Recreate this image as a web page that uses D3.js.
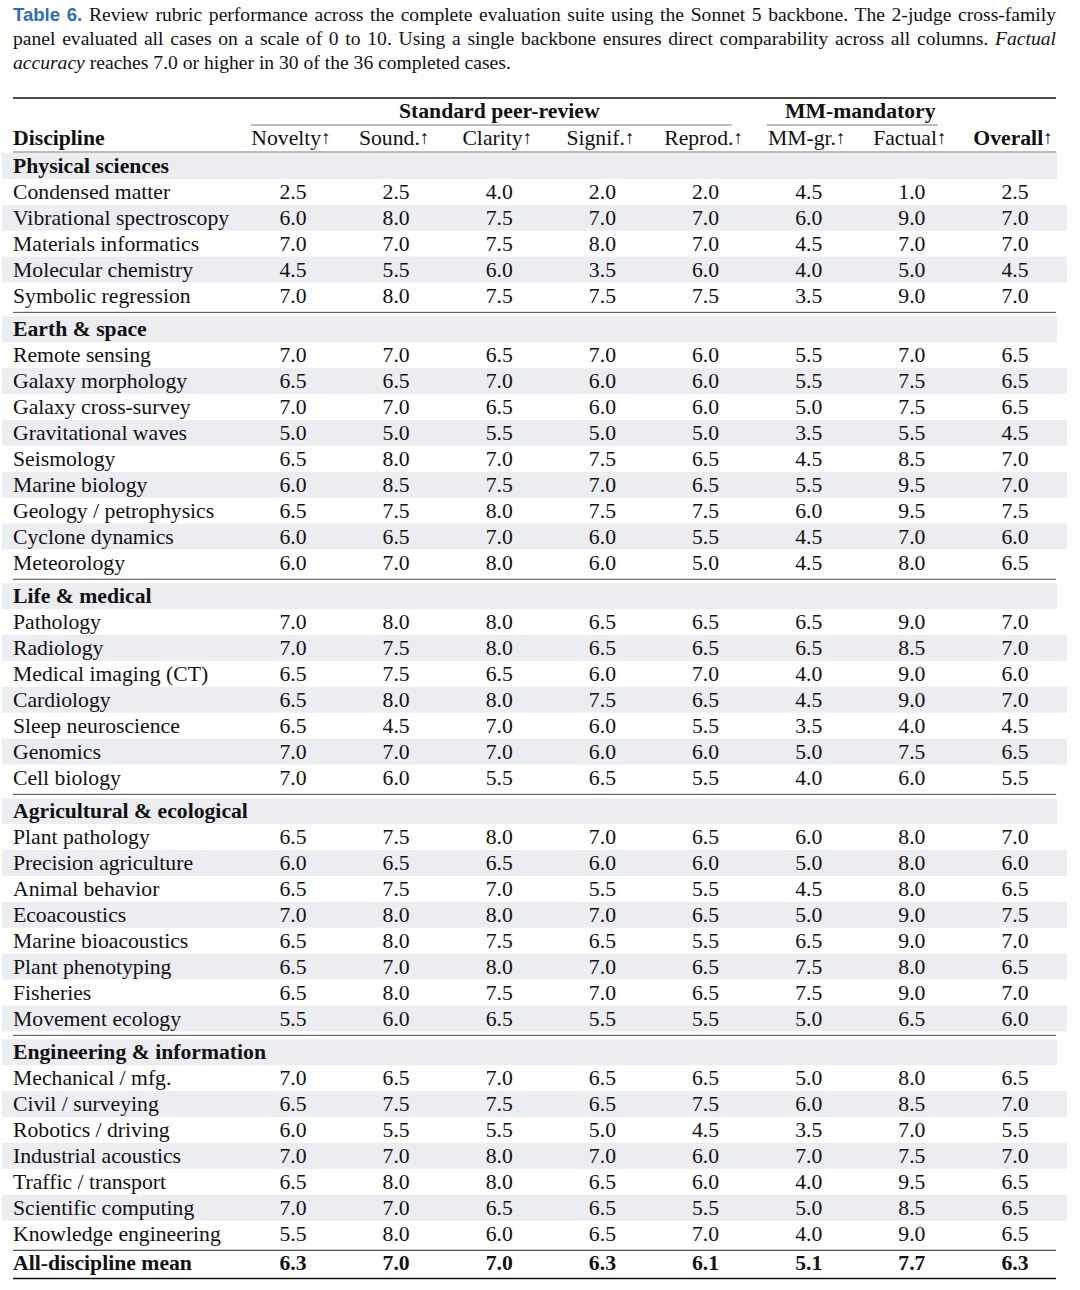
<!DOCTYPE html>
<html>
<head>
<meta charset="utf-8">
<script src="https://cdn.jsdelivr.net/npm/d3@7"></script>
<style>
  body { margin: 0; background: #fff; }
  #page { position: relative; width: 1080px; height: 1290px; }
  .cap { position: absolute; left: 13px; top: 3px; width: 1043px; z-index: 2;
         font-family: "Liberation Serif", "Times New Roman", serif; font-size: 19.6px;
         line-height: 24px; color: #111; }
  .cap .ln { text-align: justify; text-align-last: justify; white-space: nowrap; }
  .cap .ln.last { text-align-last: left; }
  .cap .tag { font-family: "Liberation Sans", Arial, sans-serif; font-weight: bold; color: #2e6db5; font-size: 18.5px; }
  svg { position: absolute; left: 0; top: 0; }
</style>
</head>
<body>
<div id="page"></div>
<script>
// column headers and groups
var columns = ["Novelty", "Sound.", "Clarity", "Signif.", "Reprod.", "MM-gr.", "Factual", "Overall"];
var spanners = [
  { label: "Standard peer-review", first: "Novelty", last: "Reprod." },
  { label: "MM-mandatory", first: "MM-gr.", last: "Factual" }
];
var groupNames = ["Physical sciences", "Earth & space", "Life & medical",
                  "Agricultural & ecological", "Engineering & information"];

// scores per discipline, same order as columns
var physical = [
  ["Condensed matter",        [2.5, 2.5, 4.0, 2.0, 2.0, 4.5, 1.0, 2.5]],
  ["Vibrational spectroscopy",[6.0, 8.0, 7.5, 7.0, 7.0, 6.0, 9.0, 7.0]],
  ["Materials informatics",   [7.0, 7.0, 7.5, 8.0, 7.0, 4.5, 7.0, 7.0]],
  ["Molecular chemistry",     [4.5, 5.5, 6.0, 3.5, 6.0, 4.0, 5.0, 4.5]],
  ["Symbolic regression",     [7.0, 8.0, 7.5, 7.5, 7.5, 3.5, 9.0, 7.0]]
];
var earth = [
  ["Remote sensing",          [7.0, 7.0, 6.5, 7.0, 6.0, 5.5, 7.0, 6.5]],
  ["Galaxy morphology",       [6.5, 6.5, 7.0, 6.0, 6.0, 5.5, 7.5, 6.5]],
  ["Galaxy cross-survey",     [7.0, 7.0, 6.5, 6.0, 6.0, 5.0, 7.5, 6.5]],
  ["Gravitational waves",     [5.0, 5.0, 5.5, 5.0, 5.0, 3.5, 5.5, 4.5]],
  ["Seismology",              [6.5, 8.0, 7.0, 7.5, 6.5, 4.5, 8.5, 7.0]],
  ["Marine biology",          [6.0, 8.5, 7.5, 7.0, 6.5, 5.5, 9.5, 7.0]],
  ["Geology / petrophysics",  [6.5, 7.5, 8.0, 7.5, 7.5, 6.0, 9.5, 7.5]],
  ["Cyclone dynamics",        [6.0, 6.5, 7.0, 6.0, 5.5, 4.5, 7.0, 6.0]],
  ["Meteorology",             [6.0, 7.0, 8.0, 6.0, 5.0, 4.5, 8.0, 6.5]]
];
var life = [
  ["Pathology",               [7.0, 8.0, 8.0, 6.5, 6.5, 6.5, 9.0, 7.0]],
  ["Radiology",               [7.0, 7.5, 8.0, 6.5, 6.5, 6.5, 8.5, 7.0]],
  ["Medical imaging (CT)",    [6.5, 7.5, 6.5, 6.0, 7.0, 4.0, 9.0, 6.0]],
  ["Cardiology",              [6.5, 8.0, 8.0, 7.5, 6.5, 4.5, 9.0, 7.0]],
  ["Sleep neuroscience",      [6.5, 4.5, 7.0, 6.0, 5.5, 3.5, 4.0, 4.5]],
  ["Genomics",                [7.0, 7.0, 7.0, 6.0, 6.0, 5.0, 7.5, 6.5]],
  ["Cell biology",            [7.0, 6.0, 5.5, 6.5, 5.5, 4.0, 6.0, 5.5]]
];
var agri = [
  ["Plant pathology",         [6.5, 7.5, 8.0, 7.0, 6.5, 6.0, 8.0, 7.0]],
  ["Precision agriculture",   [6.0, 6.5, 6.5, 6.0, 6.0, 5.0, 8.0, 6.0]],
  ["Animal behavior",         [6.5, 7.5, 7.0, 5.5, 5.5, 4.5, 8.0, 6.5]],
  ["Ecoacoustics",            [7.0, 8.0, 8.0, 7.0, 6.5, 5.0, 9.0, 7.5]],
  ["Marine bioacoustics",     [6.5, 8.0, 7.5, 6.5, 5.5, 6.5, 9.0, 7.0]],
  ["Plant phenotyping",       [6.5, 7.0, 8.0, 7.0, 6.5, 7.5, 8.0, 6.5]],
  ["Fisheries",               [6.5, 8.0, 7.5, 7.0, 6.5, 7.5, 9.0, 7.0]],
  ["Movement ecology",        [5.5, 6.0, 6.5, 5.5, 5.5, 5.0, 6.5, 6.0]]
];
var engineering = [
  ["Mechanical / mfg.",       [7.0, 6.5, 7.0, 6.5, 6.5, 5.0, 8.0, 6.5]],
  ["Civil / surveying",       [6.5, 7.5, 7.5, 6.5, 7.5, 6.0, 8.5, 7.0]],
  ["Robotics / driving",      [6.0, 5.5, 5.5, 5.0, 4.5, 3.5, 7.0, 5.5]],
  ["Industrial acoustics",    [7.0, 7.0, 8.0, 7.0, 6.0, 7.0, 7.5, 7.0]],
  ["Traffic / transport",     [6.5, 8.0, 8.0, 6.5, 6.0, 4.0, 9.5, 6.5]],
  ["Scientific computing",    [7.0, 7.0, 6.5, 6.5, 5.5, 5.0, 8.5, 6.5]],
  ["Knowledge engineering",   [5.5, 8.0, 6.0, 6.5, 7.0, 4.0, 9.0, 6.5]]
];
var meanLabel = "All-discipline mean";
var meanScores = [6.3, 7.0, 7.0, 6.3, 6.1, 5.1, 7.7, 6.3];

var groups = [physical, earth, life, agri, engineering];

// caption
var page = d3.select("#page");
var cap = page.append("div").attr("class", "cap");
cap.append("div").attr("class", "ln")
  .html('<span class="tag">Table 6.</span> Review rubric performance across the complete evaluation suite using the Sonnet 5 backbone. The 2-judge cross-family');
cap.append("div").attr("class", "ln")
  .html('panel evaluated all cases on a scale of 0 to 10. Using a single backbone ensures direct comparability across all columns. <i>Factual</i>');
cap.append("div").attr("class", "ln last")
  .html('<i>accuracy</i> reaches 7.0 or higher in 30 of the 36 completed cases.');

var svg = page.append("svg").attr("width", 1080).attr("height", 1290)
  .style("font-family", '"Liberation Serif", "Times New Roman", serif')
  .style("font-size", "21.7px")
  .style("fill", "#111");

var x = d3.scalePoint().domain(columns).range([293, 1015]);
var fmt = d3.format(".1f");

var ruleL = 13, ruleR = 1056;
var rowH = 25.9, gap = 7.9, bodyTop = 153;

// build rows with positions
var rows = [];
var yPos = bodyTop;
var seps = [];
groups.forEach(function(g, gi) {
  if (gi > 0) { seps.push(yPos + gap / 2); yPos += gap; }
  rows.push({ type: "group", label: groupNames[gi], y0: yPos });
  yPos += rowH;
  g.forEach(function(r, i) {
    rows.push({ type: "data", label: r[0], values: r[1], y0: yPos, shaded: i % 2 == 1 });
    yPos += rowH;
  });
});
var meanRule = yPos + 3.8;
rows.push({ type: "mean", label: meanLabel, values: meanScores, y0: meanRule, shaded: false });
var bottomRule = meanRule + rowH + 2.3;

// shading
svg.append("g").selectAll("rect")
  .data(rows.filter(function(d) { return d.type == "group" || d.shaded; }))
  .enter().append("rect")
    .attr("x", 2)
    .attr("y", function(d) { return d.y0; })
    .attr("width", function(d) { return d.type == "group" ? 1055 : 1065; })
    .attr("height", rowH)
    .attr("fill", "#ebedf1");

// rules
function rule(y, x1, x2, w, c) {
  svg.append("line").attr("x1", x1).attr("x2", x2).attr("y1", y).attr("y2", y)
    .attr("stroke", c).attr("stroke-width", w);
}
rule(98, ruleL, ruleR, 1.7, "#111");
rule(152, ruleL, ruleR, 1.2, "#7a7a7a");
seps.forEach(function(y) { rule(y, ruleL, ruleR, 1, "#4a4a4a"); });
rule(meanRule, ruleL, ruleR, 1.1, "#222");
rule(bottomRule, ruleL, ruleR, 1.7, "#111");

// spanning headers
spanners.forEach(function(s) {
  var a = x(s.first), b = x(s.last);
  svg.append("text").attr("x", (a + b) / 2).attr("y", 118)
    .attr("text-anchor", "middle").attr("font-weight", "bold").text(s.label);
  rule(125, a - 42, b + 26, 1.2, "#7a7a7a");
});

// column header row
svg.append("text").attr("x", ruleL).attr("y", 144.5).attr("font-weight", "bold").text("Discipline");
var hd = svg.append("g").selectAll("text").data(columns).enter().append("text")
  .attr("x", function(d) { return x(d) - 2; })
  .attr("y", 144.5)
  .attr("text-anchor", "middle")
  .attr("font-weight", function(d) { return d == "Overall" ? "bold" : null; });
hd.append("tspan").text(function(d) { return d; });
hd.append("tspan").attr("font-size", "19px").attr("font-weight", "normal").attr("dy", -1).text("\u2191");

// body text
var base = rowH / 2 + 7.2;
svg.append("g").selectAll("text").data(rows).enter().append("text")
  .attr("x", ruleL)
  .attr("y", function(d) { return d.y0 + base; })
  .attr("font-weight", function(d) { return d.type == "data" ? null : "bold"; })
  .text(function(d) { return d.label; });

var cells = [];
rows.forEach(function(r) {
  if (!r.values) return;
  r.values.forEach(function(v, i) { cells.push({ col: columns[i], v: v, y0: r.y0, bold: r.type == "mean" }); });
});
svg.append("g").selectAll("text").data(cells).enter().append("text")
  .attr("x", function(d) { return x(d.col); })
  .attr("y", function(d) { return d.y0 + base; })
  .attr("text-anchor", "middle")
  .attr("font-weight", function(d) { return d.bold ? "bold" : null; })
  .text(function(d) { return fmt(d.v); });
</script>
</body>
</html>
